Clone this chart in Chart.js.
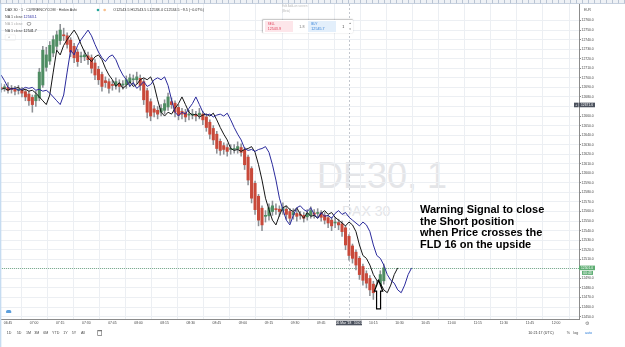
<!DOCTYPE html>
<html>
<head>
<meta charset="utf-8">
<title>DAX 30 - 1 min Heikin Ashi</title>
<script src="https://cdn.jsdelivr.net/npm/chart.js@4.4.1/dist/chart.umd.min.js"></script>
<style>
  html, body { margin: 0; padding: 0; background: #fff; }
  #stage { position: relative; width: 625px; height: 347px; overflow: hidden; font-family: "Liberation Sans", Arial, sans-serif; }
  #chart { position: absolute; left: 0; top: 0; }
  .wm { position: absolute; color: #e4e5e8; white-space: nowrap; line-height: 1; }
  /* the UI chrome is laid out at 3x and scaled down, like the shrunken screenshot */
  #ui { position: absolute; left: 0; top: 0; width: 1875px; height: 1041px; transform: scale(0.333333); transform-origin: 0 0; }
  #ui .t { position: absolute; white-space: nowrap; font-size: 11px; line-height: 1; color: #4a4a4a; }
  #note { position: absolute; left: 420px; top: 204px; font: bold 11px/11.5px "Liberation Sans", Arial, sans-serif; color: #000; white-space: nowrap; }
</style>
</head>
<body>
<div id="stage">
  <div class="wm" style="left:317px;top:158px;font-size:36px;">DE30, 1</div>
  <div class="wm" style="left:342px;top:204px;font-size:14px;">DAX 30</div>
  <canvas id="chart" width="625" height="347"></canvas>

  <div id="ui">
    <div style="position:absolute;left:0;top:0;width:1875px;height:10px;background:repeating-linear-gradient(90deg,#b9c4d3 0 2px,#eef1f5 2px 18px);border-bottom:2px solid #aebdd1;"></div>
    <div style="position:absolute;left:0;top:12px;width:4px;height:1029px;background:#c6dcf1;"></div>

    <div class="t" style="left:15px;top:24px;color:#333;">DAX 30 · 1 · CURRENCYCOM · Heikin Ashi</div>
    <div style="position:absolute;left:290px;top:26px;width:8px;height:8px;border-radius:50%;background:#26a69a;"></div>
    <div style="position:absolute;left:310px;top:26px;width:8px;height:8px;border-radius:50%;background:#f6c08f;"></div>
    <div class="t" style="left:340px;top:24px;color:#333;">O12543.5 H12543.5 L12538.4 C12534.5 −9.5 (−0.07%)</div>

    <div class="t" style="left:15px;top:45px;">NA 1 close <span style="color:#2a2aa0;">12563.1</span></div>
    <div class="t" style="left:15px;top:66px;color:#aaa;">NA 1 close</div>
    <div style="position:absolute;left:80px;top:66px;width:10px;height:7px;border:2px solid #888;border-radius:50%;"></div>
    <div class="t" style="left:15px;top:87px;">NA 1 close <span style="color:#111;">12541.7</span></div>
    <div style="position:absolute;left:15px;top:104px;width:30px;height:16px;border:1px solid #ddd;border-radius:3px;"></div>
    <div class="t" style="left:25px;top:108px;color:#888;">^</div>

    <div class="t" style="left:846px;top:15px;color:#bbb;font-size:9px;">Edit Add-on screen</div>
    <div class="t" style="left:846px;top:28px;color:#bbb;font-size:9px;">(Beta)</div>
    <div style="position:absolute;left:789px;top:60px;width:270px;height:39px;background:#fff;border-radius:3px;box-shadow:0 0 4px rgba(0,0,0,.25);"></div>
    <div style="position:absolute;left:795px;top:63px;width:84px;height:33px;background:#fde6ea;"></div>
    <div class="t" style="left:803px;top:68px;color:#e0405a;font-size:9px;">SELL</div>
    <div class="t" style="left:803px;top:82px;color:#e0405a;">12543.9</div>
    <div class="t" style="left:898px;top:76px;color:#777;">1.8</div>
    <div style="position:absolute;left:924px;top:63px;width:84px;height:33px;background:#e3effb;"></div>
    <div class="t" style="left:934px;top:68px;color:#2f7ed8;font-size:9px;">BUY</div>
    <div class="t" style="left:934px;top:82px;color:#2f7ed8;">12545.7</div>
    <div class="t" style="left:1027px;top:76px;color:#333;">1</div>
    <div class="t" style="left:1046px;top:66px;color:#666;font-size:8px;">▲</div>
    <div class="t" style="left:1046px;top:85px;color:#666;font-size:8px;">▼</div>

    <div style="position:absolute;left:18px;top:930px;width:16px;height:9px;border-radius:5px 5px 2px 2px;background:#5d9fdc;"></div>

    <div class="t" style="left:20px;top:994px;">1D</div>
    <div class="t" style="left:50px;top:994px;">5D</div>
    <div class="t" style="left:78px;top:994px;">1M</div>
    <div class="t" style="left:103px;top:994px;">3M</div>
    <div class="t" style="left:130px;top:994px;">6M</div>
    <div class="t" style="left:156px;top:994px;">YTD</div>
    <div class="t" style="left:190px;top:994px;">1Y</div>
    <div class="t" style="left:215px;top:994px;">5Y</div>
    <div class="t" style="left:243px;top:994px;">All</div>
    <div style="position:absolute;left:292px;top:990px;width:10px;height:11px;border:2px solid #777;border-top-width:4px;"></div>

    <div class="t" style="left:1585px;top:993px;color:#333;">10:21:17 (UTC)</div>
    <div class="t" style="left:1700px;top:993px;">%</div>
    <div class="t" style="left:1720px;top:993px;">log</div>
    <div class="t" style="left:1755px;top:993px;color:#2f7ed8;">auto</div>
    <div class="t" style="left:1755px;top:962px;color:#777;font-size:14px;">⚙</div>
  </div>

  <div id="note">Warning Signal to close<br>the Short position<br>when Price crosses the<br>FLD 16 on the upside</div>
</div>

<script>
// time axis labels (15 min apart)
const timeLabels = ['06:45', '07:00', '07:15', '07:30', '07:45', '08:00', '08:15', '08:30', '08:45', '09:00', '09:15',
    '09:30', '09:45', '10:00', '10:15', '10:30', '10:45', '11:00', '11:15', '11:30', '11:45', '12:00'];

// price axis labels
const priceLabels = [12760, 12750, 12740, 12730, 12720, 12710, 12700, 12690, 12680, 12670, 12660, 12650, 12640, 12630,
    12620, 12610, 12600, 12590, 12580, 12570, 12560, 12550, 12540, 12530, 12520, 12510, 12500, 12490, 12480, 12470, 12460, 12450];

// Heikin Ashi bars, one every 2 minutes from 06:41
const firstBar = '06:41';
const barStep = 2;

const haOpen = [
    12690, 12689.5, 12690, 12688.5, 12688, 12687, 12687, 12685.5, 12683, 12679.5,
    12676, 12679, 12692.5, 12711, 12717.5, 12726, 12733, 12739, 12744.5, 12744,
    12739.5, 12733, 12727, 12722, 12722, 12723, 12721, 12715.5, 12709, 12703.5,
    12697, 12696, 12692.5, 12692, 12694, 12692.5, 12693, 12695.5, 12698, 12698,
    12699.5, 12696, 12686.5, 12675, 12667.5, 12666, 12664, 12666, 12669.5, 12675,
    12673.5, 12669, 12665, 12663.5, 12661, 12661, 12661.5, 12661, 12662, 12659,
    12653.5, 12647, 12641, 12633.5, 12629, 12627, 12625, 12625, 12625.5, 12627,
    12624.5, 12617, 12605, 12589.5, 12576, 12563.5, 12555, 12555.5, 12560, 12563,
    12562.5, 12561, 12562.5, 12560, 12556.5, 12558, 12556.5, 12556, 12554.5, 12556,
    12558.5, 12558, 12558.5, 12556, 12553.5, 12551, 12548, 12548.5, 12547, 12543,
    12534, 12524, 12517.5, 12511, 12502.5, 12495, 12490, 12484, 12479.5, 12481, 12487.5];

const haClose = [
    12689, 12690, 12687, 12688, 12686, 12687, 12684, 12680, 12676, 12672,
    12682, 12706, 12729, 12724, 12734, 12740, 12745, 12750, 12744, 12735,
    12727, 12721, 12717, 12722, 12724, 12719, 12710, 12703, 12698, 12691,
    12695, 12689, 12692, 12696, 12691, 12693, 12698, 12700, 12698, 12701,
    12692, 12677, 12664, 12660, 12664, 12662, 12668, 12673, 12680, 12672,
    12664, 12661, 12662, 12659, 12661, 12662, 12660, 12663, 12656, 12648,
    12641, 12635, 12626, 12624, 12625, 12623, 12625, 12626, 12628, 12622,
    12609, 12593, 12574, 12562, 12551, 12546, 12556, 12564, 12566, 12562,
    12560, 12564, 12557, 12553, 12559, 12555, 12556, 12553, 12558, 12561,
    12557, 12559, 12554, 12551, 12548, 12545, 12549, 12546, 12539, 12525,
    12514, 12511, 12504, 12494, 12488, 12485, 12478, 12475, 12483, 12494, 12501];

const haHigh = [
    12694, 12693, 12695, 12692, 12691, 12692, 12690, 12688, 12686, 12682,
    12686, 12710, 12733, 12732, 12738, 12744, 12749, 12756, 12752, 12747,
    12742, 12736, 12730, 12727, 12729, 12727, 12724, 12719, 12712, 12706,
    12701, 12699, 12697, 12700, 12698, 12697, 12702, 12704, 12703, 12706,
    12703, 12699, 12689, 12678, 12671, 12670, 12672, 12677, 12684, 12679,
    12676, 12672, 12668, 12667, 12666, 12667, 12665, 12668, 12665, 12662,
    12656, 12650, 12644, 12636, 12632, 12631, 12630, 12630, 12633, 12631,
    12627, 12619, 12607, 12592, 12578, 12566, 12561, 12568, 12571, 12568,
    12566, 12569, 12566, 12563, 12563, 12562, 12560, 12559, 12562, 12565,
    12562, 12563, 12561, 12559, 12556, 12554, 12554, 12552, 12550, 12545,
    12536, 12526, 12520, 12513, 12505, 12498, 12493, 12487, 12488, 12498, 12505];

const haLow = [
    12685, 12686, 12684, 12684, 12682, 12683, 12680, 12676, 12671, 12664,
    12670, 12676, 12690, 12707, 12714, 12722, 12729, 12735, 12739, 12731,
    12722, 12716, 12712, 12716, 12718, 12714, 12705, 12698, 12693, 12686,
    12690, 12684, 12687, 12688, 12685, 12688, 12689, 12691, 12693, 12694,
    12687, 12672, 12658, 12655, 12659, 12657, 12660, 12662, 12666, 12668,
    12659, 12656, 12657, 12654, 12656, 12657, 12655, 12657, 12651, 12644,
    12636, 12630, 12621, 12619, 12620, 12618, 12620, 12621, 12621, 12618,
    12604, 12588, 12569, 12557, 12545, 12540, 12549, 12551, 12556, 12557,
    12555, 12557, 12552, 12548, 12552, 12550, 12552, 12549, 12551, 12553,
    12553, 12554, 12550, 12547, 12543, 12540, 12543, 12541, 12534, 12520,
    12509, 12506, 12499, 12489, 12483, 12480, 12472, 12468, 12474, 12477, 12484];

// FLD lines (displaced forward), same 2 minute spacing from 06:41
const fldBlack = [
    12688, 12689, 12687, 12689,
    12689, 12690, 12687, 12688, 12686, 12687, 12684, 12680, 12676, 12672,
    12682, 12706, 12729, 12724, 12734, 12740, 12745, 12750, 12744, 12735,
    12727, 12721, 12717, 12722, 12724, 12719, 12710, 12703, 12698, 12691,
    12695, 12689, 12692, 12696, 12691, 12693, 12698, 12700, 12698, 12701,
    12692, 12677, 12664, 12660, 12664, 12662, 12668, 12673, 12680, 12672,
    12664, 12661, 12662, 12659, 12661, 12662, 12660, 12663, 12656, 12648,
    12641, 12635, 12626, 12624, 12625, 12623, 12625, 12626, 12628, 12622,
    12609, 12593, 12574, 12562, 12551, 12546, 12556, 12564, 12566, 12562,
    12560, 12564, 12557, 12553, 12559, 12555, 12556, 12553, 12558, 12561,
    12557, 12559, 12554, 12551, 12548, 12545, 12549, 12546, 12539, 12525,
    12514, 12511, 12504, 12494, 12488, 12485, 12478, 12475, 12483, 12494, 12501];

const fldBlue = [
    12703, 12697, 12690, 12688, 12689, 12687, 12688, 12690,
    12689, 12690, 12687, 12688, 12686, 12687, 12684, 12680, 12676, 12672,
    12682, 12706, 12729, 12724, 12734, 12740, 12745, 12750, 12744, 12735,
    12727, 12721, 12717, 12722, 12724, 12719, 12710, 12703, 12698, 12691,
    12695, 12689, 12692, 12696, 12691, 12693, 12698, 12700, 12698, 12701,
    12692, 12677, 12664, 12660, 12664, 12662, 12668, 12673, 12680, 12672,
    12664, 12661, 12662, 12659, 12661, 12662, 12660, 12663, 12656, 12648,
    12641, 12635, 12626, 12624, 12625, 12623, 12625, 12626, 12628, 12622,
    12609, 12593, 12574, 12562, 12551, 12546, 12556, 12564, 12566, 12562,
    12560, 12564, 12557, 12553, 12559, 12555, 12556, 12553, 12558, 12561,
    12557, 12559, 12554, 12551, 12548, 12545, 12549, 12546, 12539, 12525,
    12514, 12511, 12504, 12494, 12488, 12485, 12478, 12475, 12483, 12494, 12501];

// crosshair, last price and the hand drawn arrow
const crossTime = '10:01';
const crossPrice = 12671.6;
const lastPrice = 12501.0;
const arrowNote = { time: '10:18', tip: 12488, base: 12458 };

const toMin = s => { const p = s.split(':'); return +p[0] * 60 + +p[1]; };
const startMin = toMin(firstBar);
const barMin = i => startMin + barStep * i;
const tickMinutes = timeLabels.map(toMin);

const upColor = '#4f8d63', downColor = '#c8493a', wickColor = '#8d9095';
const isUp = haClose.map((c, i) => c >= haOpen[i]);

const axisFont = { family: '"Liberation Sans", Arial, sans-serif', size: 3.4 };

function badge(ctx, x, y, w, h, bg, text, color) {
    ctx.fillStyle = bg;
    ctx.fillRect(x, y - h / 2, w, h);
    ctx.fillStyle = color;
    ctx.font = '3.3px "Liberation Sans", Arial, sans-serif';
    ctx.textBaseline = 'middle';
    ctx.textAlign = 'center';
    ctx.fillText(text, x + w / 2, y + 0.2);
}

const overlay = {
    id: 'overlay',
    beforeDatasetsDraw(chart) {
        const { ctx, chartArea: a, scales: { x, y } } = chart;
        ctx.save();
        ctx.lineWidth = 1;
        // current price line
        const py = Math.round(y.getPixelForValue(lastPrice)) + 0.5;
        ctx.strokeStyle = 'rgba(80,150,100,0.7)';
        ctx.setLineDash([1, 1]);
        ctx.beginPath(); ctx.moveTo(a.left, py); ctx.lineTo(a.right, py); ctx.stroke();
        // crosshair (vertical only)
        ctx.strokeStyle = '#c3c7ce';
        ctx.setLineDash([2, 2]);
        const cx = Math.round(x.getPixelForValue(toMin(crossTime))) + 0.5;
        ctx.beginPath(); ctx.moveTo(cx, a.top); ctx.lineTo(cx, a.bottom); ctx.stroke();
        ctx.restore();
    },
    afterDraw(chart) {
        const { ctx, chartArea: a, scales: { x, y } } = chart;
        ctx.save();
        // hollow up arrow
        const ax = x.getPixelForValue(toMin(arrowNote.time));
        const ty = y.getPixelForValue(arrowNote.tip), by = y.getPixelForValue(arrowNote.base);
        const hh = (by - ty) * 0.38, hw = 4.2, sw = 2;
        ctx.beginPath();
        ctx.moveTo(ax, ty);
        ctx.lineTo(ax + hw, ty + hh);
        ctx.lineTo(ax + sw, ty + hh);
        ctx.lineTo(ax + sw, by);
        ctx.lineTo(ax - sw, by);
        ctx.lineTo(ax - sw, ty + hh);
        ctx.lineTo(ax - hw, ty + hh);
        ctx.closePath();
        ctx.fillStyle = '#fff';
        ctx.fill();
        ctx.lineWidth = 1.2;
        ctx.strokeStyle = '#000';
        ctx.stroke();

        // axis badges
        const cx = x.getPixelForValue(toMin(crossTime));
        badge(ctx, cx - 13, a.bottom + 4, 26, 4.6, '#4c525e', "06 Mar '18   " + crossTime, '#fff');
        const cy = y.getPixelForValue(crossPrice);
        badge(ctx, a.right, cy, 16, 4.6, '#4c525e', crossPrice.toFixed(1), '#fff');
        badge(ctx, a.right - 5, cy, 4.6, 4.6, '#4c525e', '+', '#fff');
        const py = y.getPixelForValue(lastPrice);
        badge(ctx, a.right, py, 16, 4.6, '#5fae74', lastPrice.toFixed(1), '#fff');
        badge(ctx, a.right + 3, py + 5, 11, 4, '#5fae74', '00:43', '#fff');
        ctx.fillStyle = '#555';
        ctx.font = '3.3px "Liberation Sans", Arial, sans-serif';
        ctx.textAlign = 'left';
        ctx.fillText('EUR', a.right + 5, 10);
        ctx.restore();
    }
};

new Chart(document.getElementById('chart'), {
    type: 'bar',
    data: {
        datasets: [
            {
                type: 'line',
                data: fldBlack.map((v, i) => ({ x: barMin(i), y: v })),
                borderColor: '#151515',
                borderWidth: 1,
                pointRadius: 0,
                tension: 0,
                order: 1
            },
            {
                type: 'line',
                data: fldBlue.map((v, i) => ({ x: barMin(i), y: v })),
                borderColor: '#2a2a9c',
                borderWidth: 1,
                pointRadius: 0,
                tension: 0,
                order: 0
            },
            {
                data: haHigh.map((h, i) => ({ x: barMin(i), y: [haLow[i], h] })),
                backgroundColor: wickColor,
                barThickness: 0.9,
                grouped: false,
                order: 3
            },
            {
                data: haOpen.map((o, i) => ({ x: barMin(i), y: [o, haClose[i]] })),
                backgroundColor: isUp.map(u => u ? upColor : downColor),
                barThickness: 2.4,
                minBarLength: 1,
                grouped: false,
                order: 2
            }
        ]
    },
    options: {
        responsive: false,
        animation: false,
        devicePixelRatio: 1,
        layout: { padding: { top: 4, left: 0, right: 0, bottom: 0 } },
        plugins: { legend: { display: false }, tooltip: { enabled: false } },
        scales: {
            x: {
                type: 'linear',
                offset: false,
                min: 400.4,
                max: 733.2,
                afterBuildTicks: s => { s.ticks = tickMinutes.map(v => ({ value: v })); },
                afterFit: s => { s.height = 28; },
                ticks: {
                    autoSkip: false,
                    maxRotation: 0,
                    padding: 2,
                    color: '#444',
                    font: axisFont,
                    callback: v => timeLabels[tickMinutes.indexOf(v)]
                },
                grid: { color: '#eceff3', drawTicks: false },
                border: { display: true, color: '#8c8c8c' }
            },
            y: {
                position: 'right',
                min: 12447.5,
                max: 12777.3,
                afterBuildTicks: s => { s.ticks = priceLabels.map(v => ({ value: v })); },
                afterFit: s => { s.width = 46; },
                ticks: {
                    autoSkip: false,
                    padding: 0.5,
                    color: '#444',
                    font: axisFont,
                    callback: v => v.toFixed(1)
                },
                grid: { color: '#eceff3', tickLength: 2, tickColor: '#8c8c8c' },
                border: { display: true, color: '#8c8c8c' }
            }
        }
    },
    plugins: [overlay]
});
</script>
</body>
</html>
